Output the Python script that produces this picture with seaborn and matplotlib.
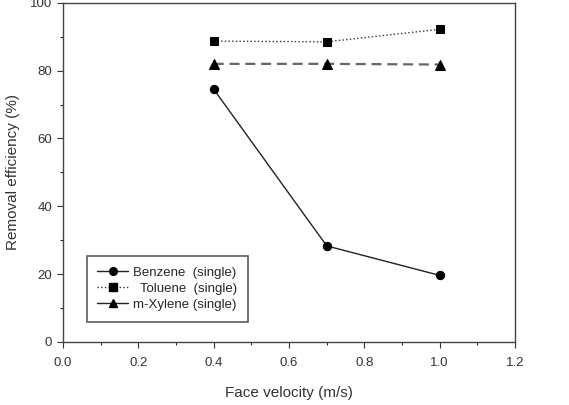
import pandas as pd
import matplotlib.pyplot as plt
import seaborn as sns
from matplotlib.lines import Line2D
from matplotlib.ticker import MultipleLocator

# dados
velocity = [0.4, 0.7, 1.0]
benzene = [74.5, 28.3, 19.6]
toluene = [88.7, 88.5, 92.2]
xylene = [82.0, 82.0, 81.8]

sns.set_style("ticks")
plt.rcParams['font.family'] = ['Liberation Sans', 'DejaVu Sans']

fig = plt.figure(figsize=(5.69, 4.05), dpi=100)
ax = fig.add_axes([0.111, 0.156, 0.794, 0.837])

df_b = pd.DataFrame({'v': velocity, 'e': benzene})
df_t = pd.DataFrame({'v': velocity, 'e': toluene})
df_x = pd.DataFrame({'v': velocity, 'e': xylene})

sns.lineplot(data=df_b, x='v', y='e', ax=ax, color='#222222', lw=1.0,
             marker='o', ms=6, mec='black', mfc='black')
sns.lineplot(data=df_t, x='v', y='e', ax=ax, color='#333333', lw=1.0,
             linestyle=':', marker='s', ms=6, mec='black', mfc='black')
sns.lineplot(data=df_x, x='v', y='e', ax=ax, color='#666666', lw=1.6,
             dashes=(4.5, 2.6), marker='^', ms=6.5, mec='black', mfc='black')

ax.set_xlim(0, 1.2)
ax.set_ylim(0, 100)
ax.xaxis.set_major_locator(MultipleLocator(0.2))
ax.xaxis.set_minor_locator(MultipleLocator(0.1))
ax.yaxis.set_major_locator(MultipleLocator(20))
ax.yaxis.set_minor_locator(MultipleLocator(10))
ax.set_xticklabels([f'{t:.1f}' for t in ax.get_xticks()])
ax.tick_params(which='major', direction='out', length=4, width=0.8,
               labelsize=9.5, colors='#333333')
ax.tick_params(axis='x', which='major', pad=7)
ax.tick_params(axis='y', which='major', pad=4)
ax.tick_params(which='minor', direction='out', length=2.5, width=0.8)
for s in ax.spines.values():
    s.set_color('#444444')
    s.set_linewidth(1.0)

ax.set_xlabel('Face velocity (m/s)', fontsize=11, color='#333333', labelpad=12)
ax.set_ylabel('Removal efficiency (%)', fontsize=11, color='#333333', labelpad=7)

handles = [
    Line2D([], [], color='#222222', lw=1.0, marker='o', ms=5.5, mfc='black', mec='black'),
    Line2D([], [], color='#333333', lw=1.0, ls=':', marker='s', ms=5.5, mfc='black', mec='black'),
    Line2D([], [], color='#222222', lw=1.0, marker='^', ms=6, mfc='black', mec='black'),
]
labels = ['Benzene  (single)', '  Toluene  (single)', 'm-Xylene (single)']
leg = ax.legend(handles, labels, loc='lower left', bbox_to_anchor=(0.038, 0.04),
                fontsize=9.5, frameon=True, fancybox=False, edgecolor='#333333',
                handlelength=2.3, handletextpad=0.4, borderpad=0.8,
                labelspacing=0.3)
leg.get_frame().set_linewidth(1.2)

fig.savefig('out.png', dpi=100)
